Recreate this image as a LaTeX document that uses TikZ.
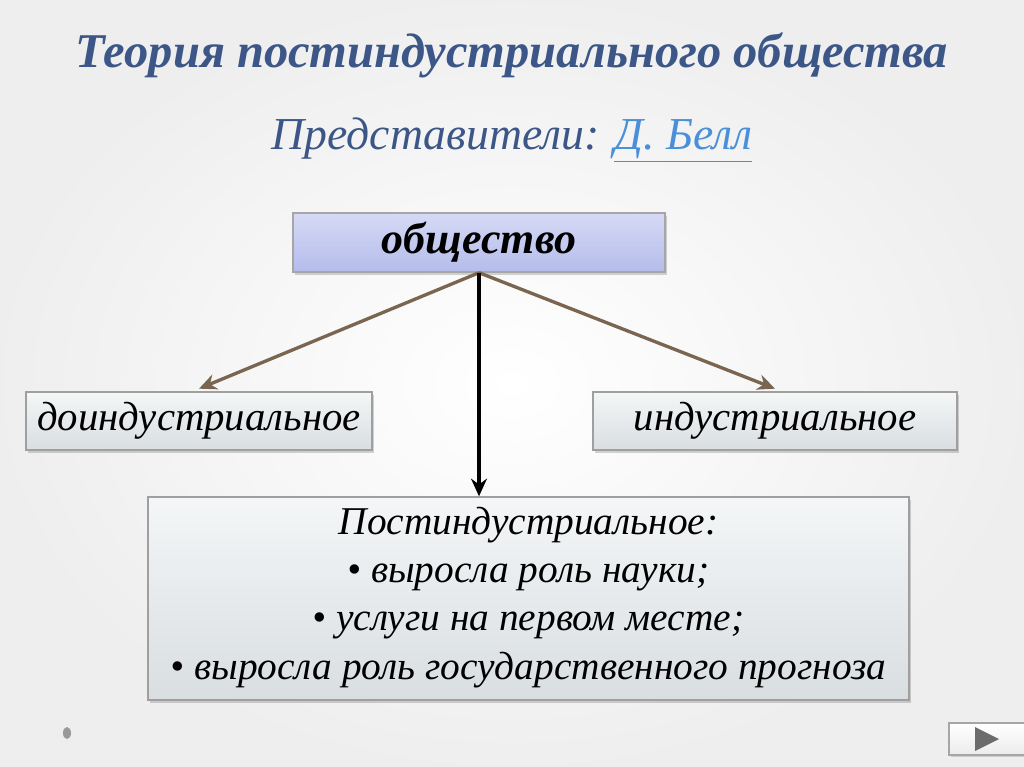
\documentclass[tikz,border=0pt]{standalone}
\usepackage{fontspec}
\setmainfont{Liberation Serif}
\usetikzlibrary{shadows,arrows.meta}
\definecolor{titleblue}{HTML}{3B5687}
\definecolor{linkblue}{HTML}{4A90D9}
\definecolor{brownline}{HTML}{7A6650}
\definecolor{boxgrayA}{HTML}{F4F6F7}
\definecolor{boxgrayB}{HTML}{D9DEE1}
\definecolor{lavA}{HTML}{D6DAF5}
\definecolor{lavB}{HTML}{B4BCEB}
\tikzset{
  px/.style={x=0.02cm,y=-0.02cm},
  boxshadow/.style={drop shadow={shadow xshift=1.2pt,shadow yshift=-1.5pt,opacity=0.35}},
  graybox/.style={draw=gray!75, line width=0.8pt, top color=boxgrayA, bottom color=boxgrayB,
    boxshadow, inner sep=0pt, minimum height=1.16cm},
  lavbox/.style={draw=gray!70, line width=0.8pt, top color=lavA, bottom color=lavB,
    boxshadow, inner sep=0pt},
  brownarrow/.style={draw=brownline, line width=1.9pt, -{Stealth[length=10pt,width=9pt]}},
  blackarrow/.style={draw=black, line width=1.9pt, -{Stealth[length=10pt,width=9pt]}},
  boxtext/.style={font=\fontsize{23.2}{28}\selectfont\itshape},
}
\begin{document}
\begin{tikzpicture}[px]
\useasboundingbox (0,0) rectangle (1024,767);
% background
\shade[inner color=white, outer color=gray!13] (0,0) rectangle (1024,767);
% title
\node[text=titleblue, font=\fontsize{27.6}{32}\selectfont\bfseries\itshape] (title) at (512,55) {Теория постиндустриального общества};
\node[font=\fontsize{26}{30}\selectfont\itshape, text=titleblue] (rep) at (512,140) {Представители: \textcolor{linkblue}{\underline{Д. Белл}}};
% boxes
\node[lavbox, minimum width=7.44cm, minimum height=1.18cm,
  font=\fontsize{25}{30}\selectfont\bfseries\itshape] (soc) at (479,242.5) {общество};
\node[graybox, boxtext, minimum width=6.92cm] (pre) at (199,421) {доиндустриальное};
\node[graybox, boxtext, minimum width=7.28cm] (ind) at (775,421) {индустриальное};
\node[graybox, minimum width=15.22cm, minimum height=4.06cm, align=center,
  font=\fontsize{22.4}{27.4}\selectfont\itshape] (post) at (528.5,598.5)
  {\rule{0pt}{5pt}\\[-18pt]Постиндустриальное:\\ • выросла роль науки;\\ • услуги на первом месте;\\ • выросла роль государственного прогноза};
% connectors
\draw[brownarrow] (soc.south) -- ([yshift=1.5pt]pre.north);
\draw[brownarrow] (soc.south) -- ([yshift=1.5pt]ind.north);
\draw[blackarrow] (soc.south) -- (soc.south |- post.north);
% footer
\fill[gray!80] (67,733) ellipse (4 and 6);
\path[draw=gray!70, line width=0.8pt, top color=white, bottom color=gray!15,
  drop shadow={shadow xshift=1pt,shadow yshift=-1pt,opacity=0.3}] (949,723) rectangle (1030,755);
\fill[gray!85!black] (975,727) -- (999,739) -- (975,751) -- cycle;
\end{tikzpicture}
\end{document}
